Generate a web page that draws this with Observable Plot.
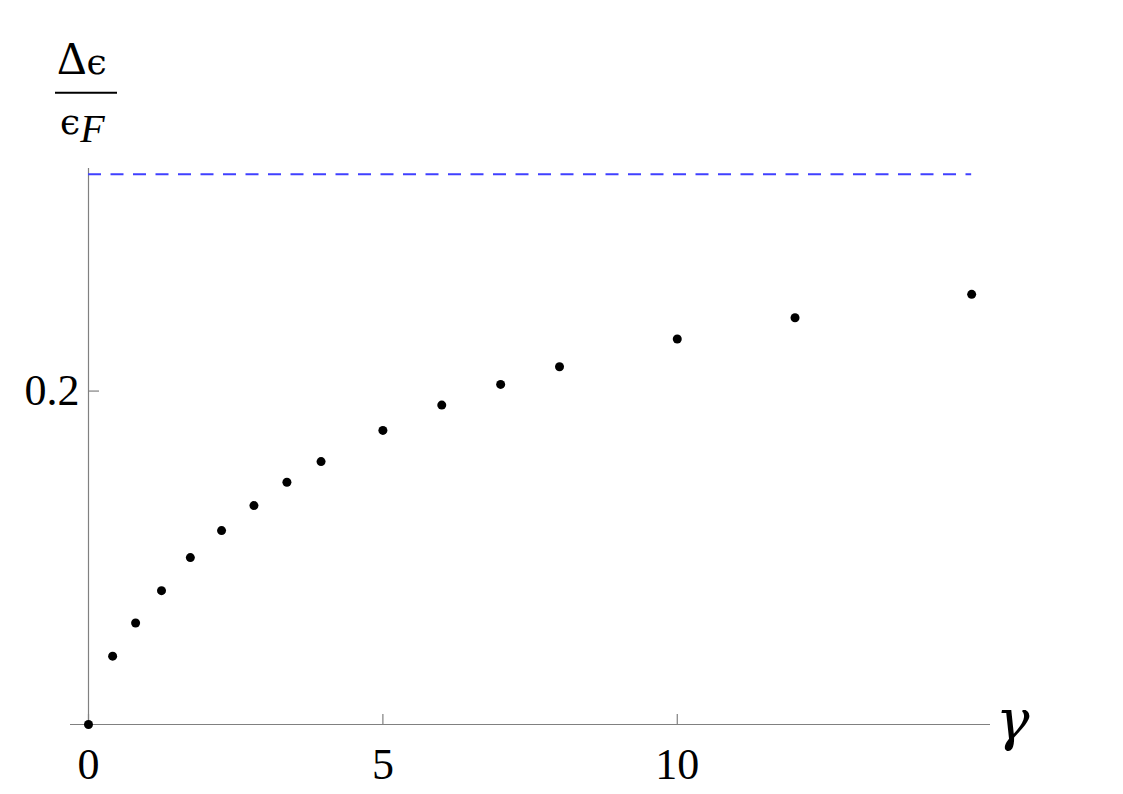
<!DOCTYPE html>
<html><head><meta charset="utf-8">
<script src="https://cdn.jsdelivr.net/npm/d3@7"></script>
<script src="https://cdn.jsdelivr.net/npm/@observablehq/plot@0.6"></script>
<style>
body{margin:0;background:#fff;}
#chart svg{display:block}
</style>
</head><body><div id="chart"></div>
<script>
const gamma  = [0, 0.41, 0.80, 1.24, 1.73, 2.26, 2.81, 3.37, 3.95, 5, 6, 7, 8, 10, 12, 15];
const deltaE = [0, 0.0410, 0.0609, 0.0803, 0.1001, 0.1163, 0.1313, 0.1453, 0.1577, 0.1764, 0.1916, 0.2040, 0.2146, 0.2312, 0.2440, 0.2580];
const limit = 0.33;
const xTicks = [0, 5, 10];
const yTicks = [0.2];
const xTickLabels = ["0", "5", "10"];
const yTickLabels = ["0.2"];

const data = gamma.map((g, i) => ({gamma: g, de: deltaE[i]}));
const axisGray = "#808080";
const serif = "Liberation Serif, Times New Roman, serif";
const greek = "DejaVu Serif, serif";

const chart = Plot.plot({
  width: 1123, height: 794,
  marginLeft: 88, marginRight: 133, marginTop: 168, marginBottom: 70,
  style: {background: "#fff", overflow: "visible", fontFamily: serif},
  x: {domain: [0, 15.32], label: null, axis: null},
  y: {domain: [0, 0.3335], label: null, axis: null},
  marks: [
    Plot.ruleY([0], {stroke: axisGray, strokeWidth: 1.2, insetLeft: -18}),
    Plot.ruleX([0], {stroke: axisGray, strokeWidth: 1.2}),
    Plot.ruleX(xTicks, {x: d => d, y1: 0, y2: 0, insetTop: -10, stroke: axisGray, strokeWidth: 1.2}),
    Plot.ruleY(yTicks, {y: d => d, x1: 0, x2: 0, insetRight: -11, stroke: axisGray, strokeWidth: 1.2}),
    Plot.axisX({ticks: xTicks, tickSize: 0, tickPadding: 23, fontSize: 44, fill: "#000",
      tickFormat: d => xTickLabels[xTicks.indexOf(d)], label: null}),
    Plot.axisY({ticks: yTicks, tickSize: 0, tickPadding: 9, fontSize: 44, fill: "#000",
      tickFormat: d => yTickLabels[yTicks.indexOf(d)], label: null}),
    Plot.ruleY([limit], {x1: 0, x2: d3.max(gamma), stroke: "#4040ff", strokeWidth: 2, strokeDasharray: "13,9.5"}),
    Plot.dot(data, {x: "gamma", y: "de", r: 4.5, fill: "#000", stroke: null})
  ]
});
document.getElementById("chart").appendChild(chart);

// axis labels
const svg = d3.select(chart);
const g = svg.append("g").attr("fill", "#000").attr("text-anchor", "start");
const num = g.append("text").attr("x", 57).attr("y", 74).attr("font-size", 46).attr("text-anchor", "start");
num.append("tspan").style("font-family", serif).text("Δ");
num.append("tspan").style("font-family", greek).attr("font-size", 36).text("ϵ");
g.append("line").attr("x1", 55).attr("x2", 117).attr("y1", 92.7).attr("y2", 92.7)
  .attr("stroke", "#000").attr("stroke-width", 2);
const den = g.append("text").attr("x", 60).attr("y", 134).attr("text-anchor", "start");
den.append("tspan").style("font-family", greek).attr("font-size", 36).text("ϵ");
den.append("tspan").style("font-family", serif).attr("font-style", "italic")
  .attr("font-size", 40).attr("dy", 8).text("F");
g.append("text").attr("x", 996).attr("y", 739).attr("font-size", 56).attr("text-anchor", "start")
  .style("font-family", greek).attr("font-style", "italic").text("γ");
</script>
</body></html>
